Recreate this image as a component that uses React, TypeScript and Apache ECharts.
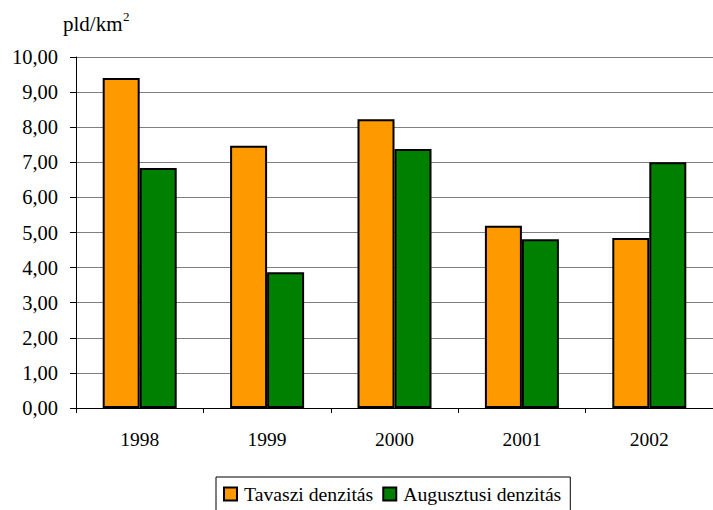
import React, { useEffect, useRef } from "react";
import * as echarts from "echarts";

const categories = ["1998", "1999", "2000", "2001", "2002"];
const tavaszi = [9.4, 7.47, 8.23, 5.19, 4.84];
const augusztusi = [6.84, 3.87, 7.38, 4.81, 7.0];
const seriesNames = ["Tavaszi denzitás", "Augusztusi denzitás"];
const unitText = "pld/km";
const unitSup = "2";

export default function App() {
  const ref = useRef<HTMLDivElement>(null);
  useEffect(() => {
    document.body.style.margin = "0";
    const chart = echarts.init(ref.current!, null, { renderer: "svg" });
    const font = "Liberation Serif";
    chart.setOption({
      animation: false,
      graphic: [
        {
          type: "text",
          left: 63,
          top: 13,
          style: { text: unitText, fontFamily: font, fontSize: 21, fill: "#000" },
        },
        {
          type: "text",
          left: 123,
          top: 10,
          style: { text: unitSup, fontFamily: font, fontSize: 13, fill: "#000" },
        },
      ],
      legend: {
        top: 477,
        left: 216,
        orient: "horizontal",
        borderColor: "#000",
        borderWidth: 1,
        borderRadius: 0,
        padding: [7, 9, 12, 7],
        itemWidth: 13,
        itemHeight: 13,
        itemGap: 9,
        icon: "rect",
        itemStyle: { borderColor: "#000", borderWidth: 2 },
        textStyle: { fontFamily: font, fontSize: 19.7, color: "#000", padding: [0, 0, 0, 2] },
        data: seriesNames,
      },
      grid: { left: 76, top: 57, width: 647, height: 351, containLabel: false },
      xAxis: {
        type: "category",
        data: categories,
        axisLine: { lineStyle: { color: "#000", width: 1 } },
        axisTick: { show: true, length: 5, alignWithLabel: false, lineStyle: { color: "#000" } },
        axisLabel: { fontFamily: font, fontSize: 19.5, color: "#000", margin: 21 },
      },
      yAxis: {
        type: "value",
        min: 0,
        max: 10,
        interval: 1,
        axisLine: { show: true, lineStyle: { color: "#000", width: 1 } },
        axisTick: { show: true, length: 6, lineStyle: { color: "#000" } },
        splitLine: { lineStyle: { color: "#808080", width: 1.2 } },
        axisLabel: {
          fontFamily: font,
          fontSize: 20.5,
          color: "#000",
          margin: 18,
          formatter: (v: number) => v.toFixed(2).replace(".", ","),
        },
      },
      series: [
        {
          name: seriesNames[0],
          type: "bar",
          data: tavaszi,
          barWidth: 37,
          barGap: "0%",
          itemStyle: { color: "#FF9900", borderColor: "#000", borderWidth: 2 },
        },
        {
          name: seriesNames[1],
          type: "bar",
          data: augusztusi,
          barWidth: 37,
          barGap: "0%",
          itemStyle: { color: "#008000", borderColor: "#000", borderWidth: 2 },
        },
      ],
    });
    return () => chart.dispose();
  }, []);
  return <div ref={ref} style={{ width: 713, height: 510 }} />;
}
